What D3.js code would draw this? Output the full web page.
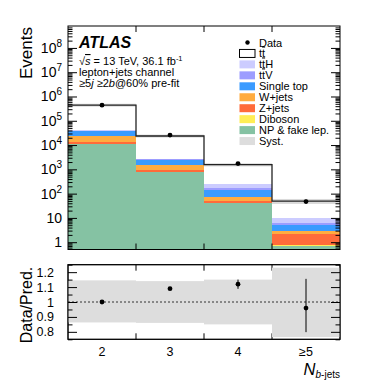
<!DOCTYPE html>
<html><head><meta charset="utf-8">
<script src="https://cdn.jsdelivr.net/npm/d3@7"></script>
<style>
html,body{margin:0;padding:0;background:#fff;}
svg{display:block;font-family:"Liberation Sans",Arial,Helvetica,sans-serif;}
</style></head>
<body><svg id="c" width="374" height="386"></svg>
<script>
// ---------- data ----------
const categories = ["2", "3", "4", "≥5"];
const ttbar     = [400000, 20830, 1310, 39.5];
const ttH       = [1400, 170, 65, 3.2];
const ttV       = [600, 260, 40, 1.4];
const singleTop = [14500, 880, 63, 2.05];
const wJets     = [10200, 525, 23, 0.77];
const zJets     = [2400, 135, 7, 1.3];
const diboson   = [150, 10, 1, 0.05];
const npFake    = [10700, 790, 41, 0.73];
const dataCounts  = [440000, 25700, 1735, 47];
const dataErrUp   = [660, 160, 48, 9.6];
const dataErrDown = [660, 160, 48, 7.9];
const systUp   = [0.145, 0.14, 0.15, 0.23];
const systDown = [0.137, 0.14, 0.15, 0.235];
const yMajorTicks = [1, 10, 1e2, 1e3, 1e4, 1e5, 1e6, 1e7, 1e8];
const ratioTicks = [0.8, 0.9, 1.0, 1.1, 1.2];
const ratioTickLabels = ["0.8", "0.9", "1", "1.1", "1.2"];

// stack order bottom -> top
const samples = [
  {key: "np",  name: "NP & fake lep.", vals: npFake,    color: "#85c2a3"},
  {key: "vv",  name: "Diboson",        vals: diboson,   color: "#ffee55"},
  {key: "zj",  name: "Z+jets",         vals: zJets,     color: "#ff6b3a"},
  {key: "wj",  name: "W+jets",         vals: wJets,     color: "#ffac40"},
  {key: "st",  name: "Single top",     vals: singleTop, color: "#3a9bff"},
  {key: "ttv", name: "ttV",            vals: ttV,       color: "#9d9dff"},
  {key: "tth", name: "ttH",            vals: ttH,       color: "#ccccff"},
  {key: "tt",  name: "tt",             vals: ttbar,     color: "#ffffff"}
];

// ---------- layout ----------
const L = 68, R = 340, T = 26, B = 249.5, RT = 264.7, RB = 339.3;
const svg = d3.select("#c");

const x = d3.scaleBand().domain(categories).range([L, R]).padding(0);
const yMin = 0.5, yMax = 8e8;
const y = d3.scaleLog().domain([yMin, yMax]).range([B, T]).clamp(true);
const yr = d3.scaleLinear().domain([0.75, 1.25]).range([RB, RT]);

const rows = categories.map((c, i) => {
  const o = {cat: c};
  samples.forEach(s => o[s.key] = s.vals[i]);
  return o;
});
const stack = d3.stack().keys(samples.map(s => s.key))(rows);
const totals = categories.map((c, i) => d3.sum(samples, s => s.vals[i]));

svg.append("clipPath").attr("id", "clipMain").append("rect")
  .attr("x", L).attr("y", T).attr("width", R - L).attr("height", B - T);
svg.append("clipPath").attr("id", "clipRatio").append("rect")
  .attr("x", L).attr("y", RT).attr("width", R - L).attr("height", RB - RT);

const gMain = svg.append("g").attr("clip-path", "url(#clipMain)");

// stacked bars
stack.forEach((layer, li) => {
  gMain.selectAll(null).data(layer).enter().append("rect")
    .attr("x", d => x(d.data.cat))
    .attr("width", x.bandwidth())
    .attr("y", d => y(Math.max(d[1], yMin)))
    .attr("height", d => y(Math.max(d[0], yMin)) - y(Math.max(d[1], yMin)))
    .attr("fill", samples[li].color)
    .attr("shape-rendering", "crispEdges");
});

// syst band in main panel
gMain.selectAll(null).data(categories).enter().append("rect")
  .attr("x", d => x(d)).attr("width", x.bandwidth())
  .attr("y", (d, i) => y(totals[i] * (1 + systUp[i])))
  .attr("height", (d, i) => y(totals[i] * (1 - systDown[i])) - y(totals[i] * (1 + systUp[i])))
  .attr("fill", "#d6d6d6").attr("opacity", 0.9);

// total outline (step)
const stepPts = [];
categories.forEach((c, i) => {
  stepPts.push([x(c), y(totals[i])]);
  stepPts.push([x(c) + x.bandwidth(), y(totals[i])]);
});
gMain.append("path").attr("d", d3.line()(stepPts))
  .attr("fill", "none").attr("stroke", "#222").attr("stroke-width", 1.3);

// data points main
gMain.selectAll(null).data(categories).enter().append("line")
  .attr("x1", d => x(d) + x.bandwidth() / 2).attr("x2", d => x(d) + x.bandwidth() / 2)
  .attr("y1", (d, i) => y(dataCounts[i] + dataErrUp[i]))
  .attr("y2", (d, i) => y(dataCounts[i] - dataErrDown[i]))
  .attr("stroke", "#000").attr("stroke-width", 1);
gMain.selectAll(null).data(categories).enter().append("circle")
  .attr("cx", d => x(d) + x.bandwidth() / 2)
  .attr("cy", (d, i) => y(dataCounts[i]))
  .attr("r", 2.4).attr("fill", "#000");

// ---------- main axes ----------
const minorVals = [];
for (let e = -1; e <= 8; e++) for (let m = 2; m <= 9; m++) {
  const v = m * Math.pow(10, e);
  if (v > yMin && v < yMax) minorVals.push(v);
}
function yAxes(g, scale, majors, minors, majLen, minLen) {
  g.append("g").attr("transform", `translate(${L},0)`)
    .call(d3.axisRight(scale).tickValues(majors).tickSize(majLen).tickFormat("").tickSizeOuter(0));
  g.append("g").attr("transform", `translate(${L},0)`)
    .call(d3.axisRight(scale).tickValues(minors).tickSize(minLen).tickFormat("").tickSizeOuter(0));
  g.append("g").attr("transform", `translate(${R},0)`)
    .call(d3.axisLeft(scale).tickValues(majors).tickSize(majLen).tickFormat("").tickSizeOuter(0));
  g.append("g").attr("transform", `translate(${R},0)`)
    .call(d3.axisLeft(scale).tickValues(minors).tickSize(minLen).tickFormat("").tickSizeOuter(0));
}
const axG = svg.append("g");
yAxes(axG, y, yMajorTicks, minorVals, 9, 4.5);

// x ticks at bin edges (main and ratio)
const edges = categories.slice(1).map(c => x(c));
function xTicks(top, bottom) {
  svg.selectAll(null).data(edges).enter().append("line")
    .attr("x1", d => d).attr("x2", d => d).attr("y1", bottom).attr("y2", bottom - 6)
    .attr("stroke", "#000");
  svg.selectAll(null).data(edges).enter().append("line")
    .attr("x1", d => d).attr("x2", d => d).attr("y1", top).attr("y2", top + 6)
    .attr("stroke", "#000");
}
xTicks(T, B);
xTicks(RT, RB);

// frames
svg.append("rect").attr("x", L).attr("y", T).attr("width", R - L).attr("height", B - T)
  .attr("fill", "none").attr("stroke", "#000").attr("stroke-width", 1);
svg.append("rect").attr("x", L).attr("y", RT).attr("width", R - L).attr("height", RB - RT)
  .attr("fill", "none").attr("stroke", "#000").attr("stroke-width", 1);
svg.selectAll(".domain").remove();
svg.selectAll(".tick line").attr("stroke", "#000");

// y tick labels (main)
yMajorTicks.forEach(v => {
  const e = Math.round(Math.log10(v));
  const t = svg.append("text").attr("x", 62).attr("y", y(v) + 5)
    .attr("text-anchor", "end").attr("font-size", 14).attr("fill", "#000");
  if (e < 2) { t.text(String(v)); }
  else {
    t.append("tspan").text("10");
    t.append("tspan").attr("font-size", 10).attr("dy", -6).text(String(e));
  }
});

svg.append("text").attr("transform", `translate(32,${T + 1}) rotate(-90)`)
  .attr("text-anchor", "end").attr("font-size", 17).text("Events");

// ---------- ATLAS label ----------
svg.append("text").attr("x", 79).attr("y", 48).attr("font-size", 16)
  .attr("font-weight", "bold").attr("font-style", "italic").text("ATLAS");
const t1 = svg.append("text").attr("x", 79).attr("y", 65).attr("font-size", 11);
t1.append("tspan").text("√");
t1.append("tspan").attr("font-style", "italic").style("text-decoration", "overline").text("s");
t1.append("tspan").text(" = 13 TeV, 36.1 fb");
t1.append("tspan").attr("font-size", 7.5).attr("dy", -4).text("-1");
svg.append("text").attr("x", 79).attr("y", 76).attr("font-size", 11).text("lepton+jets channel");
const t3 = svg.append("text").attr("x", 79).attr("y", 87).attr("font-size", 11);
t3.append("tspan").text("≥5");
t3.append("tspan").attr("font-style", "italic").text("j");
t3.append("tspan").text("  ≥2");
t3.append("tspan").attr("font-style", "italic").text("b");
t3.append("tspan").text("@60% pre-fit");

// ---------- legend ----------
const legendItems = [{name: "Data", type: "data"}]
  .concat(samples.slice().reverse().map(s => ({name: s.name, type: s.key, color: s.color})))
  .concat([{name: "Syst.", type: "syst", color: "#dddddd"}]);
const lg = svg.append("g");
legendItems.forEach((it, i) => {
  const cy = 42.5 + i * 10.95;
  if (it.type === "data") {
    lg.append("circle").attr("cx", 247.5).attr("cy", cy).attr("r", 2.2).attr("fill", "#000");
  } else {
    lg.append("rect").attr("x", 239.5).attr("y", cy - 4).attr("width", 15.5).attr("height", 8)
      .attr("fill", it.color)
      .attr("stroke", it.type === "tt" ? "#000" : "none").attr("stroke-width", 1);
  }
  const tx = lg.append("text").attr("x", 259).attr("y", cy + 4).attr("font-size", 11);
  if (it.type === "tt" || it.type === "tth" || it.type === "ttv") {
    tx.append("tspan").text("t");
    tx.append("tspan").style("text-decoration", "overline").text("t");
    if (it.type === "tth") tx.append("tspan").text("H");
    if (it.type === "ttv") tx.append("tspan").text("V");
  } else {
    tx.text(it.name);
  }
});

// ---------- ratio panel ----------
const gR = svg.append("g").attr("clip-path", "url(#clipRatio)");
gR.selectAll(null).data(categories).enter().append("rect")
  .attr("x", d => x(d)).attr("width", x.bandwidth())
  .attr("y", (d, i) => yr(1 + systUp[i]))
  .attr("height", (d, i) => yr(1 - systDown[i]) - yr(1 + systUp[i]))
  .attr("fill", "#dddddd");
gR.append("line").attr("x1", L).attr("x2", R).attr("y1", yr(1)).attr("y2", yr(1))
  .attr("stroke", "#333").attr("stroke-width", 1).attr("stroke-dasharray", "2,2");
const ratios = categories.map((c, i) => dataCounts[i] / totals[i]);
gR.selectAll(null).data(categories).enter().append("line")
  .attr("x1", d => x(d) + x.bandwidth() / 2).attr("x2", d => x(d) + x.bandwidth() / 2)
  .attr("y1", (d, i) => yr(ratios[i] + dataErrUp[i] / totals[i]))
  .attr("y2", (d, i) => yr(ratios[i] - dataErrDown[i] / totals[i]))
  .attr("stroke", "#000").attr("stroke-width", 1);
gR.selectAll(null).data(categories).enter().append("circle")
  .attr("cx", d => x(d) + x.bandwidth() / 2)
  .attr("cy", (d, i) => yr(ratios[i]))
  .attr("r", 2.4).attr("fill", "#000");

const rAx = svg.append("g");
const ratioMinor = [0.75, 0.85, 0.95, 1.05, 1.15, 1.25];
yAxes(rAx, yr, ratioTicks, ratioMinor, 9, 4.5);
rAx.selectAll(".domain").remove();
rAx.selectAll(".tick line").attr("stroke", "#000");
// redraw ratio frame on top
svg.append("rect").attr("x", L).attr("y", RT).attr("width", R - L).attr("height", RB - RT)
  .attr("fill", "none").attr("stroke", "#000").attr("stroke-width", 1);

ratioTicks.forEach((v, i) => {
  svg.append("text").attr("x", 54).attr("y", yr(v) + 4.5).attr("text-anchor", "end")
    .attr("font-size", 12.5).text(ratioTickLabels[i]);
});
categories.forEach(c => {
  svg.append("text").attr("x", x(c) + x.bandwidth() / 2).attr("y", 356)
    .attr("text-anchor", "middle").attr("font-size", 12.5).text(c);
});
const xt = svg.append("text").attr("x", 340).attr("y", 374.5).attr("text-anchor", "end").attr("font-size", 16.5);
xt.append("tspan").attr("font-style", "italic").text("N");
xt.append("tspan").attr("font-size", 10).attr("dy", 3.5).attr("font-style", "italic").text("b");
xt.append("tspan").attr("font-size", 10).text("-jets");

svg.append("text").attr("transform", `translate(32,${(RT + RB) / 2 + 3}) rotate(-90)`)
  .attr("text-anchor", "middle").attr("font-size", 16).text("Data/Pred.");
</script></body></html>
